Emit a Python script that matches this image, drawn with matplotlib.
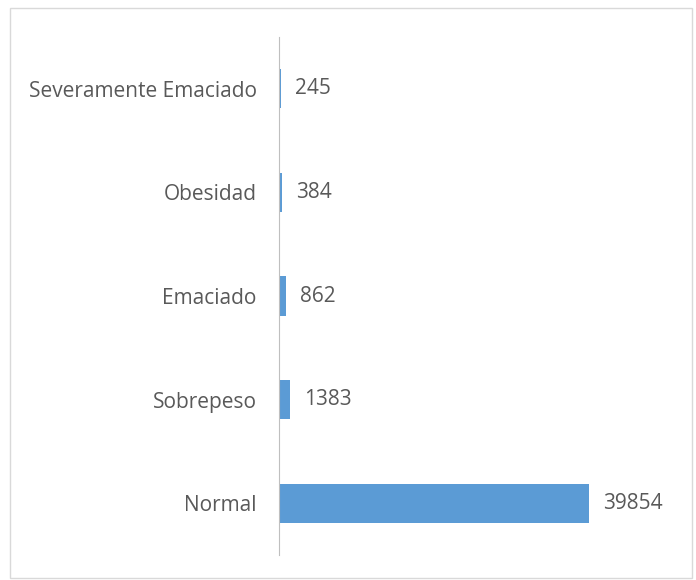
import matplotlib.pyplot as plt
from matplotlib.patches import Rectangle

categories = ['Normal', 'Sobrepeso', 'Emaciado', 'Obesidad', 'Severamente Emaciado']
counts = [39854, 1383, 862, 384, 245]

plt.rcParams['font.family'] = ['Open Sans', 'DejaVu Sans']

fig = plt.figure(figsize=(6.96, 5.80), dpi=100)
fig.patches.append(Rectangle((10 / 696, 2 / 580), 682 / 696, 570 / 580,
                             transform=fig.transFigure, fill=False,
                             edgecolor='#d9d9d9', linewidth=1))

ax = fig.add_axes([279 / 696, 25 / 580, 389 / 696, 518 / 580])
ypos = range(len(categories))
ax.barh(ypos, counts, height=0.38, color='#5b9bd5')
ax.set_xlim(0, 50000)
ax.set_ylim(-0.5, len(categories) - 0.5)
ax.set_yticks(list(ypos))
ax.set_yticklabels(categories, fontsize=15, color='#595959')
ax.tick_params(axis='y', length=0, pad=16)
ax.set_xticks([])
for s in ['top', 'right', 'bottom']:
    ax.spines[s].set_visible(False)
ax.spines['left'].set_color('#bfbfbf')

for y, v in zip(ypos, counts):
    ax.text(v + 1800, y, str(v), va='center', ha='left', fontsize=15, color='#595959')

fig.savefig('out.png', dpi=100)
